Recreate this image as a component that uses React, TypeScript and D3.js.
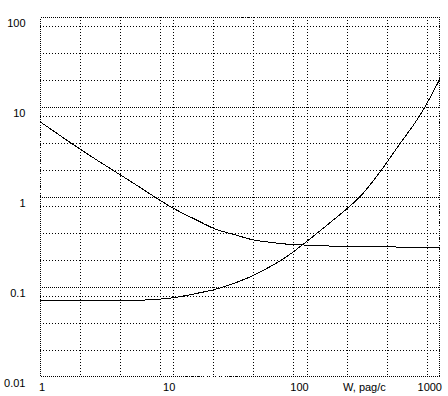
import React from 'react';
import * as d3 from 'd3';

// Data (log-log chart)
const xValues = [1, 2, 5, 10, 15, 20, 30, 40, 50, 70, 100, 150, 200, 250, 350, 500, 700, 850, 1000];
const seriesA = [6.87, 3.4, 1.43, 0.749, 0.553, 0.449, 0.375, 0.333, 0.318, 0.3, 0.292, 0.285, 0.282, 0.28, 0.279, 0.278, 0.277, 0.276, 0.275];
const seriesB = [0.07, 0.07, 0.071, 0.076, 0.085, 0.093, 0.113, 0.135, 0.16, 0.215, 0.32, 0.52, 0.74, 1.0, 1.85, 3.9, 7.9, 13.0, 20.7];
const xTickValues = [1, 10, 100, 1000];
const xTickLabels = ['1', '10', '100', '1000'];
const yTickValues = [0.01, 0.1, 1, 10, 100];
const yTickLabels = ['0.01', '0.1', '1', '10', '100'];
const xAxisTitle = 'W, pag/c';

const WIDTH = 448;
const HEIGHT = 396;
const LEFT = 40;
const RIGHT = 440;
const TOP = 17;
const BOTTOM = 377;

export default function App() {
  const x = d3.scaleLog().domain([1, 1000]).range([LEFT, RIGHT]);
  const y = d3.scaleLog().domain([0.01, 100]).range([BOTTOM, TOP]);

  const minorX: number[] = [];
  for (let k = 0; k < 3; k++) [0.3, 0.6, 0.9].forEach((f) => minorX.push(Math.pow(10, k + f)));
  const minorY: number[] = [];
  for (let k = -2; k < 2; k++) [0.3, 0.6, 0.9].forEach((f) => minorY.push(Math.pow(10, k + f)));
  const majorX = [10, 100];
  const majorY = [0.1, 1, 10];

  const px = (v: number) => Math.round(x(v)) + 0.5;
  const py = (v: number) => Math.round(y(v)) + 0.5;

  const line = d3
    .line<number>()
    .x((_, i) => x(xValues[i]))
    .y((d) => y(d))
    .curve(d3.curveMonotoneX);

  const font = "'Liberation Sans', Arial, sans-serif";

  return (
    <svg
      width={WIDTH}
      height={HEIGHT}
      style={{ position: 'absolute', left: 0, top: 0, background: '#fff' }}
      fontFamily={font}
      fontSize={11}
    >
      <rect x={0} y={0} width={WIDTH} height={HEIGHT} fill="#fff" />
      {minorX.map((v) => (
        <line key={'mx' + v} x1={px(v)} x2={px(v)} y1={TOP} y2={BOTTOM} stroke="#000" strokeDasharray="1,2" shapeRendering="crispEdges" />
      ))}
      {majorX.map((v) => (
        <line key={'Mx' + v} x1={px(v)} x2={px(v)} y1={TOP} y2={BOTTOM} stroke="#000" strokeDasharray="1,2" shapeRendering="crispEdges" />
      ))}
      {minorY.map((v) => (
        <line key={'my' + v} x1={LEFT} x2={RIGHT} y1={py(v)} y2={py(v)} stroke="#000" strokeDasharray="1,2" shapeRendering="crispEdges" />
      ))}
      {majorY.map((v) => (
        <line key={'My' + v} x1={LEFT} x2={RIGHT} y1={py(v)} y2={py(v)} stroke="#000" strokeDasharray="1,1" shapeRendering="crispEdges" />
      ))}
      <rect
        x={LEFT + 0.5}
        y={TOP + 0.5}
        width={RIGHT - LEFT - 1}
        height={BOTTOM - TOP - 1}
        fill="none"
        stroke="#000"
        strokeDasharray="1,1"
        shapeRendering="crispEdges"
      />
      <path d={line(seriesA) || ''} fill="none" stroke="#000" strokeWidth={1} shapeRendering="crispEdges" />
      <path d={line(seriesB) || ''} fill="none" stroke="#000" strokeWidth={1} shapeRendering="crispEdges" />
      {yTickValues.map((v, i) => (
        <text key={'yl' + v} x={25.5} y={y(v) + 10} textAnchor="end" fill="#000">
          {yTickLabels[i]}
        </text>
      ))}
      {xTickValues.map((v, i) => (
        <text key={'xl' + v} x={i === 0 ? x(v) - 1 : x(v) + 2} y={391} textAnchor={i === 0 ? 'start' : 'end'} fill="#000">
          {xTickLabels[i]}
        </text>
      ))}
      <text x={343} y={391} fill="#000">
        {xAxisTitle}
      </text>
    </svg>
  );
}
